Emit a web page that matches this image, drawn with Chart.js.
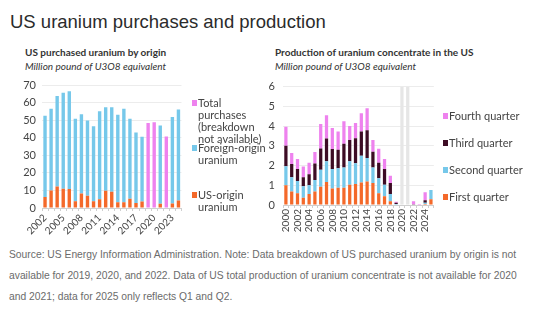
<!DOCTYPE html>
<html>
<head>
<meta charset="utf-8">
<script src="https://cdn.jsdelivr.net/npm/chart.js@4.4.1/dist/chart.umd.min.js"></script>
<style>
  body { margin: 0; width: 535px; height: 330px; background: #fff; position: relative; overflow: hidden; font-family: Lato, "Noto Sans", sans-serif; color: #333; }
  .abs { position: absolute; }
  #title { left: 10px; top: 11px; font: 18.5px "Liberation Sans", Arial, sans-serif; color: #2b2b2b; white-space: nowrap; }
  .sub { font-size: 10px; font-weight: bold; color: #333; white-space: nowrap; }
  .unit { font-size: 10px; font-style: italic; color: #333; white-space: nowrap; }
  .leg { font-size: 11px; line-height: 12px; color: #444; }
  .leg .item { position: absolute; left: 0; white-space: nowrap; }
  .leg .mk { position: absolute; left: 0; top: 3px; width: 5px; height: 6px; }
  .leg .tx { position: absolute; left: 6px; top: 0; }
  #source { left: 9px; top: 244px; font: 10.3px "Liberation Sans", Arial, sans-serif; line-height: 21px; color: #6b6b6b; white-space: nowrap; }
</style>
</head>
<body>
<div id="title" class="abs">US uranium purchases and production</div>

<div class="abs sub" style="left:25px; top:46px;">US purchased uranium by origin</div>
<div class="abs unit" style="left:25px; top:60px;">Million pound of U3O8 equivalent</div>
<div class="abs sub" style="left:275px; top:46px;">Production of uranium concentrate in the US</div>
<div class="abs unit" style="left:275px; top:60px;">Million pound of U3O8 equivalent</div>

<div class="abs" style="left:16px; top:72px;"><canvas id="purchases" width="172" height="170"></canvas></div>
<div class="abs" style="left:260px; top:72px;"><canvas id="production" width="184" height="163"></canvas></div>

<div class="abs leg" style="left:192px; top:97px;">
  <div class="item" style="top:0"><span class="mk" style="background:#ee82ee"></span><span class="tx">Total<br>purchases<br>(breakdown<br>not available)</span></div>
  <div class="item" style="top:45px"><span class="mk" style="background:#76c8ea"></span><span class="tx">Foreign-origin<br>uranium</span></div>
  <div class="item" style="top:92px"><span class="mk" style="background:#f4692a"></span><span class="tx">US-origin<br>uranium</span></div>
</div>

<div class="abs leg" style="left:443px; top:110px;">
  <div class="item" style="top:0"><span class="mk" style="background:#ee82ee"></span><span class="tx">Fourth quarter</span></div>
  <div class="item" style="top:27px"><span class="mk" style="background:#3d0c24"></span><span class="tx">Third quarter</span></div>
  <div class="item" style="top:54px"><span class="mk" style="background:#76c8ea"></span><span class="tx">Second quarter</span></div>
  <div class="item" style="top:81px"><span class="mk" style="background:#f4692a"></span><span class="tx">First quarter</span></div>
</div>

<div id="source" class="abs">Source: US Energy Information Administration. Note: Data breakdown of US purchased uranium by origin is not<br>available for 2019, 2020, and 2022. Data of US total production of uranium concentrate is not available for 2020<br>and 2021; data for 2025 only reflects Q1 and Q2.</div>

<script>
// left chart: purchases by origin, 2002-2024
const purchaseYears = ['2002','2003','2004','2005','2006','2007','2008','2009','2010','2011','2012','2013',
                       '2014','2015','2016','2017','2018','2019','2020','2021','2022','2023','2024'];
const usOrigin      = [6.2, 10, 12.3, 11, 10.8, 3.8, 8.2, 7, 3.8, 5, 9.8, 9.2,
                       3.3, 3.3, 5.2, 2.9, 3.7, null, null, 2.4, null, 2.5, 4.2];
const foreignOrigin = [46.3, 46.5, 51.5, 54.6, 55.7, 47, 45.1, 42.8, 42.7, 50, 47.5, 48.1,
                       49.7, 53.2, 45.6, 40.1, 36.8, null, null, 44.6, null, 49.3, 51.8];
const totalNoSplit  = [null, null, null, null, null, null, null, null, null, null, null, null,
                       null, null, null, null, null, 48.4, 48.8, null, 40.7, null, null];

// right chart: production by quarter, 2000-2025
const prodYears = ['2000','2001','2002','2003','2004','2005','2006','2007','2008','2009','2010','2011','2012',
                   '2013','2014','2015','2016','2017','2018','2019','2020','2021','2022','2023','2024','2025'];
const q1 = [1.0, 0.69, 0.59, 0.37, 0.56, 0.68, 0.92, 1.16, 0.83, 0.87, 0.87, 1.03, 1.06,
            1.14, 1.19, 1.11, 0.59, 0.44, 0.19, 0.02, null, null, 0, 0, 0.05, 0.29];
const q2 = [0.96, 0.71, 0.63, 0.58, 0.44, 0.59, 0.86, 1.06, 1.0, 0.99, 1.03, 1.19, 1.05,
            1.35, 1.19, 0.79, 0.76, 0.59, 0.37, 0.03, null, null, 0, 0, 0.07, 0.47];
const q3 = [1.04, 0.68, 0.61, 0.45, 0.56, 0.83, 1.08, 1.15, 1.01, 0.94, 1.2, 1.08, 1.27,
            1.24, 1.41, 0.8, 0.79, 0.8, 0.55, 0.06, null, null, 0.04, 0.03, 0.12, null];
const q4 = [0.97, 0.55, 0.5, 0.55, 0.58, 0.59, 1.24, 1.18, 1.06, 0.92, 1.14, 0.7, 0.78,
            0.92, 1.11, 0.6, 0.71, 0.5, 0.37, 0.06, null, null, 0.15, 0.02, 0.41, null];
const notAvailable = prodYears.map(y => (y === '2020' || y === '2021') ? 6 : null);

const orange = '#f4692a', blue = '#76c8ea', pink = '#ee82ee', plum = '#3d0c24';

Chart.defaults.font.family = 'Lato, "Noto Sans", sans-serif';
Chart.defaults.color = '#444';
Chart.defaults.animation = false;

function barSet(label, data, color) {
    return { label: label, data: data, backgroundColor: color, categoryPercentage: 1, barPercentage: 0.56 };
}

new Chart(document.getElementById('purchases'), {
    type: 'bar',
    data: {
        labels: purchaseYears,
        datasets: [
            barSet('US-origin uranium', usOrigin, orange),
            barSet('Foreign-origin uranium', foreignOrigin, blue),
            barSet('Total purchases (breakdown not available)', totalNoSplit, pink)
        ]
    },
    options: {
        responsive: false,
        layout: { padding: { top: 13, right: 3 } },
        plugins: { legend: { display: false }, tooltip: { enabled: false } },
        scales: {
            x: {
                stacked: true,
                grid: { drawOnChartArea: false, tickLength: 3, color: '#cfcfcf' },
                border: { color: '#cfcfcf' },
                ticks: {
                    autoSkip: false, minRotation: 45, maxRotation: 45, padding: 1,
                    font: { size: 10 },
                    callback: function (v, i) { return i % 3 === 0 ? purchaseYears[i] : ''; }
                },
                afterFit: s => { s.height = 34; }
            },
            y: {
                stacked: true, min: 0, max: 70,
                grid: { color: '#ececec', drawTicks: false },
                border: { display: false },
                ticks: { stepSize: 10, padding: 6, font: { size: 11 } },
                afterFit: s => { s.width = 26; }
            }
        }
    }
});

new Chart(document.getElementById('production'), {
    type: 'bar',
    data: {
        labels: prodYears,
        datasets: [
            barSet('First quarter', q1, orange),
            barSet('Second quarter', q2, blue),
            barSet('Third quarter', q3, plum),
            barSet('Fourth quarter', q4, pink),
            barSet('not available', notAvailable, '#e6e6e6')
        ]
    },
    options: {
        responsive: false,
        layout: { padding: { top: 9, right: 3 } },
        plugins: { legend: { display: false }, tooltip: { enabled: false } },
        scales: {
            x: {
                stacked: true,
                grid: { drawOnChartArea: false, tickLength: 3, color: '#cfcfcf' },
                border: { color: '#cfcfcf' },
                ticks: {
                    autoSkip: false, minRotation: 90, maxRotation: 90, padding: 1,
                    font: { size: 10 },
                    callback: function (v, i) { return (i % 2 === 0 && i < 25) ? prodYears[i] : ''; }
                },
                afterFit: s => { s.height = 30; }
            },
            y: {
                stacked: true, min: 0, max: 6,
                grid: { color: '#ececec', drawTicks: false },
                border: { display: false },
                ticks: { stepSize: 1, padding: 8, font: { size: 11 } },
                afterFit: s => { s.width = 23; }
            }
        }
    }
});
</script>
</body>
</html>
